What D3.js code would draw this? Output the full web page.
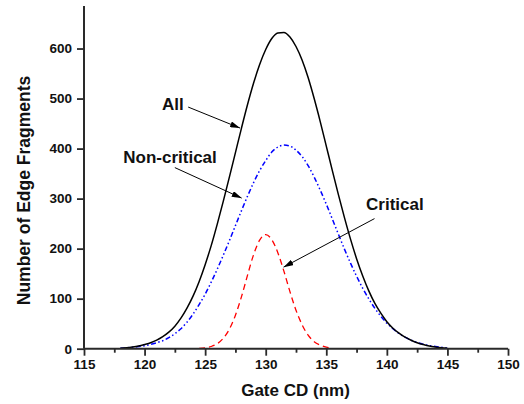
<!DOCTYPE html>
<html>
<head>
<meta charset="utf-8">
<script src="https://cdn.jsdelivr.net/npm/d3@7"></script>
<style>
  html, body { margin: 0; padding: 0; background: #fff; }
  svg text { font-family: "Liberation Sans", Arial, sans-serif; font-weight: bold; fill: #111; }
</style>
</head>
<body>
<svg id="chart" width="524" height="404"></svg>
<script>
// ---- data ----
const xAll = [118,118.5,119,119.5,120,120.5,121,121.5,122,122.5,123,123.5,124,124.5,125,125.5,126,126.5,127,127.5,128,128.5,129,129.5,130,130.5,131,131.5,132,132.5,133,133.5,134,134.5,135,135.5,136,136.5,137,137.5,138,138.5,139,139.5,140,140.5,141,141.5,142,142.5,143,143.5,144,144.5,145];
const yAll = [1,2,3.5,5.5,8.5,12,17,24,33,45,61,81,105,134,168,206,249,295,343,392,441,488,531,568,598,620,631,632,623,604,577,542,500,454,405,356,308,262,219,180,146,116,91,71,54,41,31,23,17,12,8.5,5.5,3.5,2,1];

const xNonCritical = [118,118.5,119,119.5,120,120.5,121,121.5,122,122.5,123,123.5,124,124.5,125,125.5,126,126.5,127,127.5,128,128.5,129,129.5,130,130.5,131,131.5,132,132.5,133,133.5,134,134.5,135,135.5,136,136.5,137,137.5,138,138.5,139,139.5,140,140.5,141,141.5,142,142.5,143,143.5,144,144.5,145];
const yNonCritical = [1,1.8,2.8,4.2,6,8.5,12,16,22,30,40,53,69,88,109,133,159,187,216,246,276,305,332,356,376,393,403,407,405,397,384,366,343,317,289,259,229,199,171,145,121,100,81,65,51,40,30.5,23,17,12.5,9,6.3,4.3,2.8,1.8];

const xCritical = [124.5,125,125.5,126,126.5,127,127.5,128,128.5,129,129.5,130,130.5,131,131.5,132,132.5,133,133.5,134,134.5,135,135.5];
const yCritical = [0.6,1.7,4.4,10,21,39,67,104,147,188,217,228,218,192,155,114,77,48,27,14,7,3,1.2];

const xTicks = [115,120,125,130,135,140,145,150];
const xMinorTicks = [117.5,122.5,127.5,132.5,137.5,142.5,147.5];
const yTicks = [0,100,200,300,400,500,600];

// annotation labels (data coordinates): text anchor, arrow start, arrow tip
const labelNames = ["All","Non-critical","Critical"];
const labelText = [[121.44,478],[118.24,372],[138.28,277]];
const labelArrowFrom = [[123.6,483],[122.5,362],[138.98,260]];
const labelArrowTo = [[127.88,441],[128.02,301],[131.47,163]];

// ---- drawing ----
const svg = d3.select("#chart");
const x = d3.scaleLinear().domain([115,150]).range([84,508]);
const y = d3.scaleLinear().domain([0,685]).range([348.7,6]);

const defs = svg.append("defs");
defs.append("marker")
  .attr("id","arrow").attr("viewBox","0 0 10 6").attr("refX",10).attr("refY",3)
  .attr("markerWidth",10).attr("markerHeight",6).attr("markerUnits","userSpaceOnUse")
  .attr("orient","auto")
  .append("path").attr("d","M0,0 L10,3 L0,6 Z").attr("fill","#000");

const line = d3.line().x(d => x(d[0])).y(d => y(d[1])).curve(d3.curveMonotoneX);

function series(xs, ys) { return xs.map((v,i) => [v, ys[i]]); }

svg.append("path").datum(series(xCritical,yCritical))
  .attr("d",line).attr("fill","none").attr("stroke","#ff0000")
  .attr("stroke-width",1.3).attr("stroke-dasharray","6,4");

svg.append("path").datum(series(xNonCritical,yNonCritical))
  .attr("d",line).attr("fill","none").attr("stroke","#0000ff")
  .attr("stroke-width",1.5).attr("stroke-dasharray","5,2.5,1.5,2.5,1.5,2.5");

svg.append("path").datum(series(xAll,yAll))
  .attr("d",line).attr("fill","none").attr("stroke","#000")
  .attr("stroke-width",1.5);

// axes
const axisColor = "#2a2a2a";
const xAxis = svg.append("g").attr("transform",`translate(0,${y(0)})`)
  .call(d3.axisBottom(x).tickValues(xTicks).tickSize(7).tickPadding(4).tickFormat(d3.format("d")));
svg.append("g").attr("transform",`translate(0,${y(0)})`)
  .call(d3.axisBottom(x).tickValues(xMinorTicks).tickSize(4).tickFormat(""))
  .call(g => g.select(".domain").remove())
  .selectAll("line").attr("stroke",axisColor).attr("stroke-width",1.8);
const yAxis = svg.append("g").attr("transform",`translate(${x(115)},0)`)
  .call(d3.axisLeft(y).tickValues(yTicks).tickSize(7).tickPadding(5).tickFormat(d3.format("d")));

[xAxis,yAxis].forEach(g => {
  g.select(".domain").attr("stroke",axisColor).attr("stroke-width",2);
  g.selectAll(".tick line").attr("stroke",axisColor).attr("stroke-width",1.8);
  g.selectAll(".tick text").attr("font-size",13.5).attr("font-family","Liberation Sans, Arial, sans-serif")
    .attr("font-weight","bold").attr("fill","#111");
});
xAxis.select(".domain").attr("d",`M${x(115)},0H${x(150)}`);
yAxis.select(".domain").attr("d",`M0,${y(0)}V${y(685)}`);

// axis titles
svg.append("text").attr("x",295.5).attr("y",396).attr("text-anchor","middle")
  .attr("font-size",17).text("Gate CD (nm)");
svg.append("text").attr("transform","translate(29.5,190.5) rotate(-90)")
  .attr("text-anchor","middle").attr("font-size",17.5).text("Number of Edge Fragments");

// annotations
labelNames.forEach((name,i) => {
  svg.append("text").attr("x",x(labelText[i][0])).attr("y",y(labelText[i][1]))
    .attr("font-size",17).text(name);
  svg.append("line")
    .attr("x1",x(labelArrowFrom[i][0])).attr("y1",y(labelArrowFrom[i][1]))
    .attr("x2",x(labelArrowTo[i][0])).attr("y2",y(labelArrowTo[i][1]))
    .attr("stroke","#000").attr("stroke-width",1).attr("marker-end","url(#arrow)");
});
</script>
</body>
</html>
